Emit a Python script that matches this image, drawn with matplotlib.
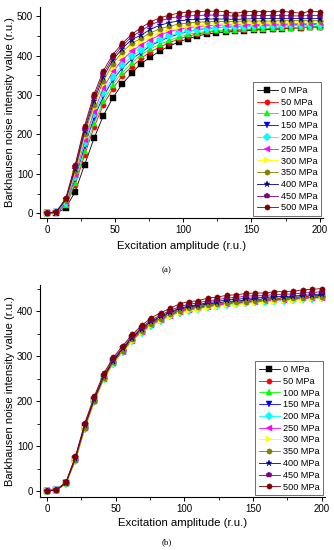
import numpy as np
import matplotlib
matplotlib.use("Agg")
import matplotlib.pyplot as plt
from matplotlib.ticker import MultipleLocator

plt.rcParams['font.family'] = ['Liberation Sans', 'DejaVu Sans']

# excitation amplitude (r.u.), 30 steps from 0 to 200
amp = [0, 6.9, 13.8, 20.7, 27.6, 34.5, 41.4, 48.3, 55.2, 62.1, 69.0, 75.9, 82.8, 89.7, 96.6,
       103.4, 110.3, 117.2, 124.1, 131.0, 137.9, 144.8, 151.7, 158.6, 165.5, 172.4, 179.3,
       186.2, 193.1, 200.0]

labels = ['0 MPa', '50 MPa', '100 MPa', '150 MPa', '200 MPa', '250 MPa', '300 MPa',
          '350 MPa', '400 MPa', '450 MPa', '500 MPa']
colors = ['#000000', '#ff0000', '#00ff00', '#0000ff', '#00ffff', '#ff00ff', '#ffff00',
          '#808000', '#000080', '#800080', '#800000']
markers = ['s', 'o', '^', 'v', 'D', '<', '>', 'o', '*', 'p', 'o']

# panel (a)
a_0 = [0, 1, 13, 55, 123, 190, 248, 293, 328, 355, 380, 396, 412, 424, 435, 443, 450, 455, 458, 459, 462, 463, 465, 466, 467, 468, 470, 471, 473, 474]
a_50 = [0, 2, 20, 72, 148, 218, 276, 316, 349, 372, 393, 410, 422, 433, 442, 450, 455, 459, 462, 463, 465, 466, 467, 468, 469, 470, 470, 471, 472, 472]
a_100 = [0, 2, 22, 78, 157, 228, 284, 326, 357, 381, 402, 417, 429, 439, 447, 454, 458, 462, 464, 465, 466, 467, 468, 469, 470, 471, 471, 472, 473, 474]
a_150 = [0, 2, 26, 88, 170, 243, 297, 338, 368, 391, 408, 425, 437, 447, 455, 461, 466, 469, 471, 472, 474, 475, 476, 477, 477, 478, 478, 479, 479, 480]
a_200 = [0, 3, 27, 92, 178, 251, 305, 346, 376, 398, 414, 428, 440, 450, 457, 462, 466, 469, 471, 472, 473, 474, 475, 475, 476, 476, 477, 477, 478, 478]
a_250 = [0, 3, 29, 97, 185, 258, 318, 360, 389, 411, 427, 441, 452, 461, 467, 471, 474, 476, 477, 478, 478, 479, 479, 480, 480, 480, 481, 481, 481, 482]
a_300 = [0, 3, 31, 102, 193, 267, 328, 370, 400, 421, 434, 448, 459, 467, 472, 476, 479, 481, 482, 482, 483, 484, 484, 484, 485, 485, 485, 486, 486, 486]
a_350 = [0, 3, 33, 107, 200, 276, 336, 379, 409, 431, 444, 458, 468, 475, 480, 483, 485, 486, 487, 487, 487, 488, 488, 488, 488, 489, 489, 489, 489, 489]
a_400 = [0, 4, 35, 113, 208, 286, 346, 389, 418, 441, 452, 467, 477, 484, 488, 491, 492, 493, 493, 493, 492, 493, 494, 494, 494, 494, 494, 494, 494, 494]
a_450 = [0, 4, 36, 118, 215, 294, 354, 396, 425, 448, 463, 478, 488, 495, 499, 501, 502, 503, 503, 502, 500, 502, 502, 502, 502, 502, 501, 501, 502, 502]
a_500 = [0, 4, 38, 123, 222, 302, 362, 403, 431, 454, 471, 486, 496, 503, 508, 511, 512, 513, 513, 512, 507, 512, 512, 512, 512, 513, 510, 508, 513, 512]

# panel (b)
b_0 = [0, 2, 18, 72, 144, 203, 253, 289, 315, 340, 359, 375, 386, 396, 404, 409, 412, 416, 418, 421, 422, 424, 426, 426, 428, 429, 430, 432, 433, 435]
b_50 = [0, 2, 17, 71, 143, 202, 252, 288, 314, 339, 358, 374, 385, 394, 402, 407, 410, 414, 416, 419, 420, 422, 424, 425, 427, 428, 429, 431, 432, 433]
b_100 = [0, 2, 17, 70, 140, 200, 250, 285, 311, 336, 355, 371, 382, 392, 400, 405, 408, 412, 414, 417, 418, 420, 422, 423, 425, 426, 427, 429, 430, 431]
b_150 = [0, 2, 18, 71, 142, 201, 251, 286, 312, 337, 356, 372, 383, 392, 400, 405, 408, 412, 414, 417, 418, 420, 422, 423, 425, 426, 427, 429, 430, 431]
b_200 = [0, 2, 16, 67, 138, 198, 248, 283, 309, 333, 352, 367, 378, 388, 396, 401, 404, 408, 411, 414, 415, 417, 419, 420, 422, 423, 424, 426, 427, 428]
b_250 = [0, 2, 17, 68, 139, 199, 249, 284, 310, 334, 353, 369, 380, 390, 398, 403, 406, 410, 413, 416, 417, 419, 421, 422, 424, 425, 426, 428, 429, 430]
b_300 = [0, 2, 16, 66, 137, 197, 247, 282, 308, 332, 351, 366, 377, 387, 395, 400, 403, 407, 410, 413, 414, 416, 418, 419, 421, 422, 423, 425, 426, 427]
b_350 = [0, 2, 17, 69, 141, 201, 251, 286, 312, 337, 356, 372, 383, 393, 401, 406, 409, 413, 415, 418, 419, 421, 423, 424, 426, 427, 428, 430, 431, 432]
b_400 = [0, 2, 18, 73, 146, 205, 255, 290, 317, 341, 361, 377, 388, 398, 406, 411, 414, 419, 421, 425, 426, 428, 429, 430, 432, 432, 433, 435, 436, 438]
b_450 = [1, 3, 19, 75, 148, 207, 258, 293, 319, 344, 364, 380, 391, 401, 410, 415, 418, 423, 425, 429, 430, 433, 434, 434, 437, 437, 438, 440, 441, 443]
b_500 = [1, 3, 20, 77, 152, 211, 262, 297, 323, 348, 368, 385, 396, 406, 416, 421, 423, 429, 431, 435, 436, 439, 440, 440, 443, 443, 444, 447, 448, 450]

series_a = [a_0, a_50, a_100, a_150, a_200, a_250, a_300, a_350, a_400, a_450, a_500]
series_b = [b_0, b_50, b_100, b_150, b_200, b_250, b_300, b_350, b_400, b_450, b_500]

W, H = 334, 550
fig = plt.figure(figsize=(W / 100, H / 100), dpi=100)


def panel(rect, data, ylim, tag, tag_y, xlab_y):
    ax = fig.add_axes(rect)
    for vals, c, m, lab in zip(data, colors, markers, labels):
        ms = 5 if m == '*' else 3.8
        ax.plot(amp, vals, color=c, marker=m, markersize=ms, linewidth=0.6,
                markeredgewidth=0.3, markeredgecolor=c, label=lab)
    ax.set_xlim(-5.1, 202.5)
    ax.set_ylim(*ylim)
    ax.spines['top'].set_visible(False)
    ax.spines['right'].set_visible(False)
    ax.spines['left'].set_linewidth(0.8)
    ax.spines['bottom'].set_linewidth(0.8)
    ax.xaxis.set_major_locator(MultipleLocator(50))
    ax.xaxis.set_minor_locator(MultipleLocator(25))
    ax.yaxis.set_major_locator(MultipleLocator(100))
    ax.yaxis.set_minor_locator(MultipleLocator(50))
    ax.tick_params(which='major', length=3, width=0.7, labelsize=7, pad=2)
    ax.tick_params(which='minor', length=2, width=0.6)
    ax.set_xlabel('Excitation amplitude (r.u.)', fontsize=8.2)
    ax.set_ylabel('Barkhausen noise intensity value (r.u.)', fontsize=8)
    ax.xaxis.set_label_coords(0.5, xlab_y)
    ax.yaxis.set_label_coords(-0.087, 0.5)
    leg = ax.legend(loc='lower right', fontsize=6.6, handlelength=2.3, handletextpad=0.3,
                    labelspacing=0.3, borderpad=0.4, borderaxespad=0.2,
                    fancybox=False, framealpha=1, edgecolor='#555555',
                    bbox_to_anchor=(1.0, 0.0))
    leg.get_frame().set_linewidth(0.6)
    fig.text(0.5, tag_y, tag, ha='center', va='center', fontsize=6.5,
             family=['Liberation Serif', 'DejaVu Serif'])
    return ax


panel([40 / W, 1 - 218 / H, 283 / W, 211 / H], series_a, (-12, 523.6), '(a)', 1 - 270 / H, -0.11)
panel([40 / W, 1 - 497 / H, 285 / W, 212 / H], series_b, (-13.3, 457.8), '(b)', 1 - 542 / H, -0.10)

fig.savefig('out.png', dpi=100)
